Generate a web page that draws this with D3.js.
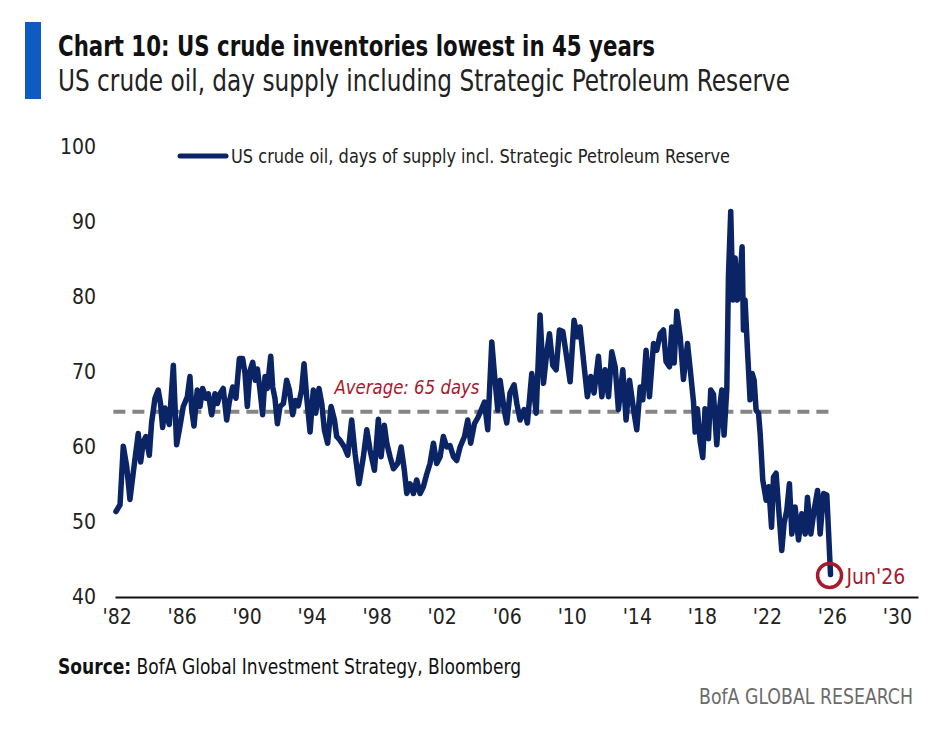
<!DOCTYPE html>
<html>
<head>
<meta charset="utf-8">
<script src="https://cdn.jsdelivr.net/npm/d3@7"></script>
<style>
  body { margin: 0; background: #fff; }
  svg text { font-family: "DejaVu Sans Condensed", "Liberation Sans Narrow", "Roboto", sans-serif; }
</style>
</head>
<body>
<div id="chart"></div>
<script>
var W = 948, H = 735;

// decimal year of each reading
var dates = [
  1982.46, 1982.71, 1982.91, 1983.12, 1983.32, 1983.53, 1983.83, 1983.98, 1984.14, 1984.3,
  1984.51, 1984.65, 1984.86, 1985.06, 1985.2, 1985.33, 1985.47, 1985.74, 1985.99, 1986.19,
  1986.4, 1986.6, 1986.85, 1987.01, 1987.12, 1987.26, 1987.46, 1987.63, 1987.79, 1988.0,
  1988.14, 1988.35, 1988.55, 1988.7, 1988.86, 1989.06, 1989.27, 1989.43, 1989.64, 1989.84,
  1990.05, 1990.25, 1990.4, 1990.54, 1990.71, 1990.87, 1991.03, 1991.16, 1991.32, 1991.48,
  1991.63, 1991.77, 1991.98, 1992.1, 1992.24, 1992.39, 1992.55, 1992.76, 1992.96, 1993.13,
  1993.33, 1993.5, 1993.68, 1993.88, 1994.03, 1994.19, 1994.4, 1994.6, 1994.75, 1994.95,
  1995.12, 1995.28, 1995.48, 1995.69, 1995.9, 1996.04, 1996.24, 1996.51, 1996.72, 1996.96,
  1997.17, 1997.41, 1997.68, 1997.89, 1998.09, 1998.36, 1998.6, 1998.77, 1998.97, 1999.12,
  1999.32, 1999.53, 1999.79, 2000.0, 2000.2, 2000.35, 2000.55, 2000.76, 2000.96, 2001.17,
  2001.37, 2001.58, 2001.78, 2001.99, 2002.19, 2002.4, 2002.6, 2002.81, 2003.01, 2003.22,
  2003.42, 2003.63, 2003.9, 2004.1, 2004.28, 2004.51, 2004.72, 2004.92, 2005.13, 2005.33,
  2005.58, 2005.74, 2005.95, 2006.09, 2006.34, 2006.5, 2006.7, 2006.95, 2007.12, 2007.32,
  2007.57, 2007.77, 2008.04, 2008.31, 2008.55, 2008.76, 2008.96, 2009.13, 2009.33, 2009.54,
  2009.74, 2009.95, 2010.15, 2010.4, 2010.64, 2010.85, 2011.01, 2011.22, 2011.46, 2011.67,
  2011.87, 2012.14, 2012.35, 2012.55, 2012.76, 2012.96, 2013.17, 2013.37, 2013.64, 2013.84,
  2014.05, 2014.3, 2014.5, 2014.71, 2014.87, 2015.07, 2015.28, 2015.53, 2015.73, 2015.94,
  2016.14, 2016.3, 2016.51, 2016.65, 2016.8, 2016.96, 2017.17, 2017.37, 2017.62, 2017.78,
  2017.99, 2018.09, 2018.23, 2018.4, 2018.56, 2018.7, 2018.91, 2019.05, 2019.22, 2019.42,
  2019.59, 2019.73, 2019.87, 2020.04, 2020.14, 2020.28, 2020.41, 2020.55, 2020.69, 2020.86,
  2020.98, 2021.06, 2021.16, 2021.31, 2021.47, 2021.6, 2021.72, 2021.84, 2021.99, 2022.09,
  2022.25, 2022.46, 2022.62, 2022.79, 2022.91, 2023.07, 2023.22, 2023.42, 2023.56, 2023.73,
  2023.89, 2024.04, 2024.24, 2024.45, 2024.65, 2024.86, 2025.0, 2025.21, 2025.41, 2025.62,
  2025.78, 2025.99, 2026.19, 2026.42
];

// days of supply incl. SPR
var days = [
  51.4, 52.3, 60.1, 57.4, 53.0, 56.7, 61.8, 58.0, 60.7, 61.4,
  58.9, 63.2, 66.5, 67.6, 65.8, 62.6, 65.2, 63.0, 70.9, 60.3,
  62.8, 65.4, 66.7, 69.4, 65.0, 62.8, 67.6, 65.4, 67.8, 66.5,
  67.1, 64.3, 67.1, 65.8, 67.1, 67.8, 63.6, 66.0, 68.0, 66.5,
  71.8, 71.8, 69.8, 65.4, 70.2, 71.3, 68.9, 70.4, 67.6, 64.3,
  69.4, 67.8, 72.1, 68.0, 66.5, 63.1, 65.4, 65.8, 68.9, 67.6,
  64.3, 66.2, 65.5, 67.6, 71.1, 66.7, 62.0, 67.6, 64.5, 67.8,
  65.8, 62.3, 60.5, 65.4, 63.6, 61.4, 60.9, 60.0, 58.9, 63.6,
  59.1, 55.1, 58.7, 62.3, 59.6, 56.9, 63.7, 58.7, 62.9, 60.5,
  58.7, 57.1, 57.8, 60.0, 56.9, 53.8, 55.1, 53.8, 55.6, 53.8,
  54.7, 56.4, 57.8, 60.5, 57.8, 58.7, 61.4, 60.0, 60.2, 58.7,
  58.2, 60.0, 61.4, 63.6, 60.5, 63.1, 63.9, 64.9, 66.0, 62.3,
  74.0, 69.8, 64.9, 68.9, 65.0, 63.2, 67.2, 68.3, 65.8, 63.6,
  65.0, 63.2, 69.8, 64.5, 77.6, 68.5, 72.5, 75.1, 70.9, 70.3,
  75.6, 75.4, 72.5, 68.7, 76.9, 74.7, 76.0, 71.6, 66.7, 69.4,
  67.2, 72.1, 66.7, 70.3, 66.7, 72.7, 70.7, 65.0, 70.3, 63.6,
  68.9, 65.0, 62.3, 68.0, 66.3, 72.9, 66.7, 73.8, 72.9, 75.1,
  75.6, 71.4, 70.7, 76.0, 71.2, 78.1, 74.7, 69.0, 73.8, 70.5,
  66.0, 62.0, 65.1, 60.7, 58.6, 65.1, 61.1, 67.6, 67.0, 60.3,
  65.1, 67.6, 61.6, 67.8, 82.9, 91.4, 79.6, 85.2, 79.6, 82.7,
  86.7, 75.6, 79.6, 72.9, 66.3, 69.8, 68.9, 64.9, 64.5, 61.8,
  55.6, 52.9, 54.7, 49.3, 56.0, 56.5, 52.0, 46.2, 49.8, 51.6,
  55.1, 48.4, 52.0, 47.6, 51.1, 48.4, 53.3, 48.4, 51.6, 54.2,
  48.4, 53.8, 53.6, 43.0
];

var avgDays = 64.7;
var yTicks = [40, 50, 60, 70, 80, 90, 100];
var xTickYears = [1982, 1986, 1990, 1994, 1998, 2002, 2006, 2010, 2014, 2018, 2022, 2026, 2030];
var lastLabel = "Jun'26";
var seriesName = "US crude oil, days of supply incl. Strategic Petroleum Reserve";

var navy = "#0b2466", red = "#a8192e";

var svg = d3.select("#chart").append("svg")
  .attr("width", W).attr("height", H);

// title block
svg.append("rect").attr("x", 25).attr("y", 22).attr("width", 16).attr("height", 77)
  .attr("fill", "#0f5bc4");
svg.append("text").attr("x", 58).attr("y", 56)
  .attr("font-size", 28).attr("font-weight", "bold").attr("fill", "#111")
  .attr("textLength", 597).attr("lengthAdjust", "spacingAndGlyphs")
  .text("Chart 10: US crude inventories lowest in 45 years");
svg.append("text").attr("x", 58).attr("y", 91)
  .attr("font-size", 30).attr("fill", "#222")
  .attr("textLength", 732).attr("lengthAdjust", "spacingAndGlyphs")
  .text("US crude oil, day supply including Strategic Petroleum Reserve");

var x = d3.scaleLinear().domain([1982.4, 2031.8]).range([115, 918]);
var y = d3.scaleLinear().domain([40, 100]).range([597, 147]);

// y axis labels
var yAxis = svg.append("g").attr("transform", "translate(104,0)")
  .call(d3.axisLeft(y).tickValues(yTicks).tickSize(0).tickPadding(8));
yAxis.select(".domain").remove();
yAxis.selectAll("text").attr("font-size", 21).attr("fill", "#222")
  .style("font-family", null);

// x axis: each year label sits in the middle of its year
var xAxis = svg.append("g").attr("transform", "translate(0," + y(40) + ")")
  .call(d3.axisBottom(x)
    .tickValues(xTickYears.map(function(d) { return d + 0.5; }))
    .tickFormat(function(d) { return "'" + String(Math.floor(d)).slice(2); })
    .tickSize(0).tickSizeOuter(0).tickPadding(12));
xAxis.select(".domain").attr("stroke", "#111").attr("stroke-width", 2);
xAxis.selectAll("text").attr("font-size", 21).attr("fill", "#222")
  .style("font-family", null);

// average line
svg.append("line")
  .attr("x1", x(1982.3)).attr("x2", x(2026.3))
  .attr("y1", y(avgDays)).attr("y2", y(avgDays))
  .attr("stroke", "#858585").attr("stroke-width", 4)
  .attr("stroke-dasharray", "12,7");
svg.append("text").attr("x", x(1995.9)).attr("y", y(avgDays) - 18)
  .attr("font-size", 20).attr("font-style", "italic").attr("fill", red)
  .attr("textLength", 145).attr("lengthAdjust", "spacingAndGlyphs")
  .text("Average: " + Math.round(avgDays) + " days");

// series line
var pts = dates.map(function(d, i) { return [d, days[i]]; });
svg.append("path")
  .datum(pts)
  .attr("fill", "none")
  .attr("stroke", navy)
  .attr("stroke-width", 5.5)
  .attr("stroke-linejoin", "round")
  .attr("stroke-linecap", "round")
  .attr("d", d3.line()
    .x(function(d) { return x(d[0]); })
    .y(function(d) { return y(d[1]); }));

// latest reading marker
var last = pts[pts.length - 1];
svg.append("circle")
  .attr("cx", x(last[0]) - 1).attr("cy", y(last[1]) + 1).attr("r", 12)
  .attr("fill", "none").attr("stroke", red).attr("stroke-width", 3.5);
svg.append("text").attr("x", x(last[0]) + 16).attr("y", y(last[1]) + 9)
  .attr("font-size", 21).attr("fill", red)
  .text(lastLabel);

// legend
svg.append("line").attr("x1", 180).attr("x2", 226).attr("y1", 156).attr("y2", 156)
  .attr("stroke", navy).attr("stroke-width", 5).attr("stroke-linecap", "round");
svg.append("text").attr("x", 231).attr("y", 163)
  .attr("font-size", 19).attr("fill", "#222")
  .attr("textLength", 499).attr("lengthAdjust", "spacingAndGlyphs")
  .text(seriesName);

// source + footer
var src = svg.append("text").attr("x", 58).attr("y", 674)
  .attr("font-size", 21).attr("fill", "#111")
  .attr("textLength", 463).attr("lengthAdjust", "spacingAndGlyphs");
src.append("tspan").attr("font-weight", "bold").text("Source:");
src.append("tspan").text(" BofA Global Investment Strategy, Bloomberg");
svg.append("text").attr("x", 913).attr("y", 704).attr("text-anchor", "end")
  .attr("font-size", 21).attr("fill", "#6b6b6b")
  .attr("textLength", 214).attr("lengthAdjust", "spacingAndGlyphs")
  .text("BofA GLOBAL RESEARCH");
</script>
</body>
</html>
